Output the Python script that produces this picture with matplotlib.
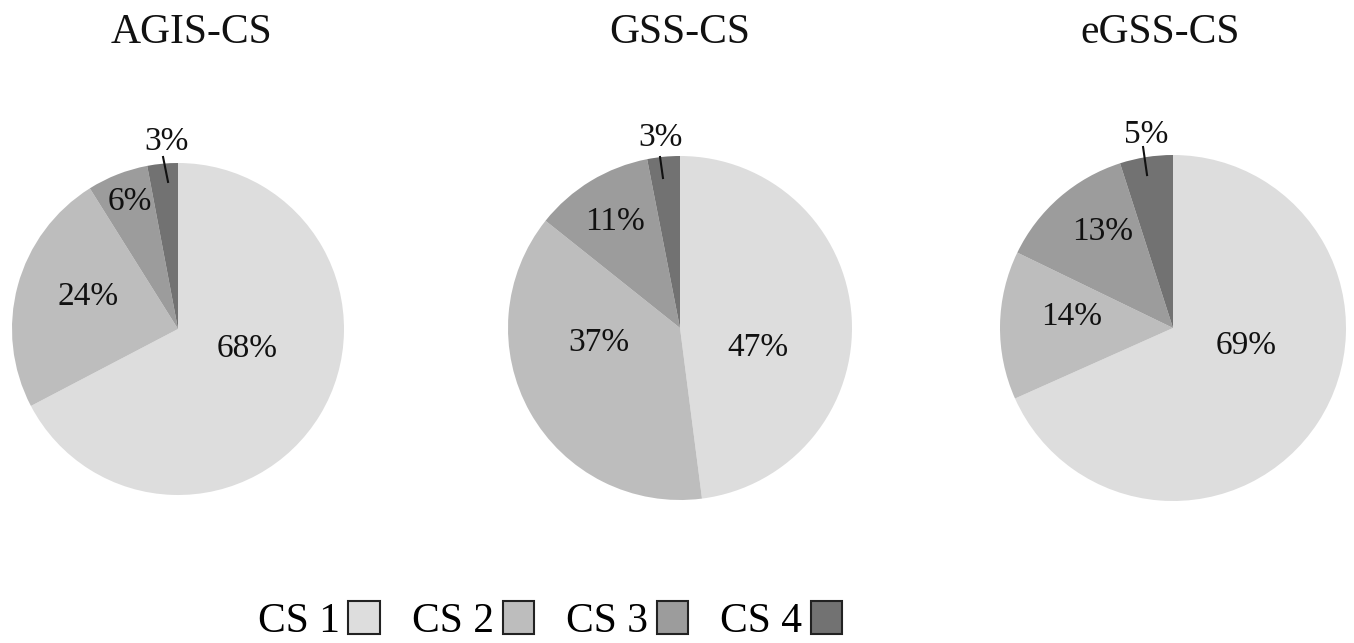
import matplotlib
matplotlib.use("Agg")
import matplotlib.pyplot as plt
from matplotlib.patches import Patch

plt.rcParams["font.family"] = ["Liberation Serif", "DejaVu Serif"]

# ---- data ----
categories = ["CS 1", "CS 2", "CS 3", "CS 4"]
methods = ["AGIS-CS", "GSS-CS", "eGSS-CS"]
agis_values = [68, 24, 6, 3]
gss_values = [47, 37, 11, 3]
egss_values = [69, 14, 13, 5]

# ---- styling / layout ----
colors = ["#dddddd", "#bdbdbd", "#9c9c9c", "#727272"]
W, H = 1354, 643
# pie centre (px) and radius (px) for each panel
pie_geom = [(178, 329, 166), (680, 328, 172), (1173, 328, 173)]
# title anchor (px, centre x and baseline y)
title_pos = [(191, 43), (680, 43), (1160, 43)]
# label offsets from centre in units of the radius
label_offsets = [
    [(0.416, -0.12), (-0.542, 0.193), (-0.289, 0.765), (-0.072, 1.127)],
    [(0.453, -0.116), (-0.471, -0.087), (-0.378, 0.616), (-0.116, 1.105)],
    [(0.422, -0.104), (-0.584, 0.064), (-0.405, 0.555), (-0.156, 1.116)],
]
# leader line for the small outside label (outer point, inner point)
leaders = [
    ((-0.09, 1.036), (-0.06, 0.886)),
    ((-0.116, 0.994), (-0.099, 0.872)),
    ((-0.173, 1.046), (-0.150, 0.884)),
]

fig = plt.figure(figsize=(W / 100, H / 100), dpi=100)
fig.patch.set_facecolor("white")

all_values = [agis_values, gss_values, egss_values]
for i, values in enumerate(all_values):
    cx, cy, r = pie_geom[i]
    ax = fig.add_axes([(cx - r) / W, (H - cy - r) / H, 2 * r / W, 2 * r / H])
    ax.pie(values, colors=colors, startangle=90, counterclock=False,
           radius=1, wedgeprops=dict(edgecolor="none"))
    ax.set_xlim(-1, 1)
    ax.set_ylim(-1, 1)
    ax.set_aspect("equal")
    ax.axis("off")
    for v, (dx, dy) in zip(values, label_offsets[i]):
        ax.text(dx, dy, f"{v}%", ha="center", va="center",
                fontsize=24, color="#111111", clip_on=False)
    (x0, y0), (x1, y1) = leaders[i]
    ax.plot([x0, x1], [y0, y1], color="#111111", lw=1.5, clip_on=False)

    tx, ty = title_pos[i]
    fig.text(tx / W, 1 - ty / H, methods[i], ha="center", va="baseline",
             fontsize=30, color="#111111")

handles = [Patch(facecolor=c, edgecolor="#222222", linewidth=1.5) for c in colors]
fig.legend(handles, categories, loc="center", ncol=4, frameon=False,
           bbox_to_anchor=(550 / W, 1 - 621 / H), fontsize=30,
           markerfirst=False, handlelength=0.75, handleheight=0.84,
           handletextpad=0.2, columnspacing=0.78)

fig.savefig("out.png", dpi=100, facecolor="white")
